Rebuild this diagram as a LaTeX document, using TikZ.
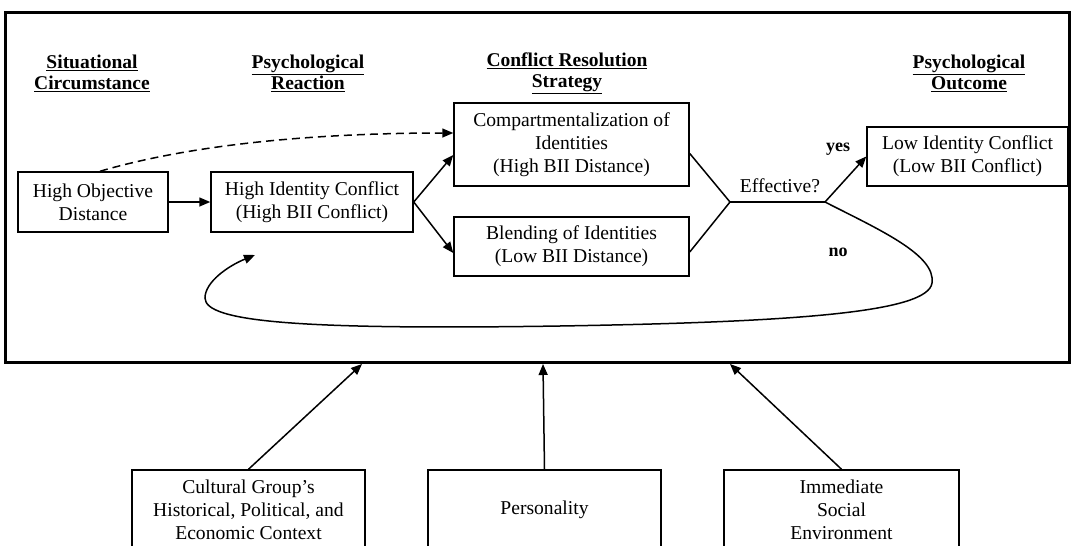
\documentclass[tikz,border=0pt]{standalone}
\usepackage{fontspec}
\setmainfont{Liberation Serif}
\usetikzlibrary{arrows.meta}
\tikzset{
  box/.style={draw, line width=1.5pt, rectangle, inner sep=0pt, align=center, font=\fontsize{19.6}{23}\selectfont},
  hdr/.style={align=center, inner sep=0pt, font=\fontsize{19.5}{21}\selectfont\bfseries},
  lbl/.style={inner sep=0pt, font=\fontsize{19.6}{23}\selectfont},
  blbl/.style={inner sep=0pt, font=\fontsize{18}{23}\selectfont\bfseries},
  conn/.style={line width=1.5pt},
  arr/.style={line width=1.5pt, -{Triangle[length=11pt,width=9pt]}},
  dasharr/.style={line width=1.5pt, dash pattern=on 8pt off 5pt, -{Triangle[length=11pt,width=9pt]}}
}
\begin{document}
\begin{tikzpicture}[x=1pt,y=-1pt]
\useasboundingbox (0,0) rectangle (1071,546);
\clip (0,0) rectangle (1071,546);
\fill[white] (0,0) rectangle (1071,546);
% outer frame
\node[draw, line width=3pt, rectangle, inner sep=0pt, minimum width=1064pt, minimum height=350pt] (frame) at (537,187) {};
% headers
\node[hdr] (h1) at (92,73) {\underline{Situational}\\\underline{Circumstance}};
\node[hdr] (h2) at (308,73) {\underline{Psychological}\\\underline{Reaction}};
\node[hdr] (h3) at (567,73) {\underline{Conflict Resolution}\\\underline{Strategy}};
\node[hdr] (h4) at (969,73) {\underline{Psychological}\\\underline{Outcome}};
% boxes
\node[box, minimum width=150pt, minimum height=60pt] (HOD) at (93,202) {High Objective\\Distance};
\node[box, minimum width=202pt, minimum height=60pt] (HIC) at (312,202) {High Identity Conflict\\(High BII Conflict)};
\node[box, minimum width=235pt, minimum height=83pt] (Comp) at (571.5,144.5) {Compartmentalization of\\Identities\\(High BII Distance)};
\node[box, minimum width=235pt, minimum height=59pt] (Blend) at (571.5,246.5) {Blending of Identities\\(Low BII Distance)};
\node[box, minimum width=201pt, minimum height=59pt] (Low) at (967.5,156.5) {Low Identity Conflict\\(Low BII Conflict)};
% bottom boxes
\node[box, minimum width=233pt, minimum height=80pt] (Cult) at (248.5,510) {Cultural Group's\\Historical, Political, and\\Economic Context};
\node[box, minimum width=233pt, minimum height=80pt] (Pers) at (544.5,510) {Personality};
\node[box, minimum width=235pt, minimum height=80pt] (Imm) at (841.5,510) {Immediate\\Social\\Environment};
% labels
\node[lbl] (eff) at (780,186) {Effective?};
\node[blbl] (yes) at (838,149) {yes};
\node[blbl] (no) at (838,252) {no};
% coordinates
\coordinate (J1) at (730,202);
\coordinate (J2) at (825,202);
\coordinate (loopend) at (255,255);
\coordinate (t1) at (362,364);
\coordinate (t2) at (543,364);
\coordinate (t3) at (730,364);
% connectors
\draw[arr] (HOD.east) -- (HIC.west);
\draw[dasharr] ([xshift=7pt]HOD.north) .. controls (200,142) and (330,133) .. ([yshift=11.5pt]Comp.west);
\draw[arr] (HIC.east) -- ([yshift=-10.5pt]Comp.west);
\draw[arr] (HIC.east) -- ([yshift=-6.5pt]Blend.west);
\draw[conn] ([yshift=-9pt]Comp.east) -- (J1);
\draw[conn] ([yshift=-5.5pt]Blend.east) -- (J1);
\draw[conn] (J1) -- (J2);
\draw[arr] (J2) -- (Low.west);
\draw[arr] (J2) .. controls (880,230) and (936,255) .. (932,283)
  .. controls (928,312) and (800,322) .. (560,326)
  .. controls (300,330) and (205,322) .. (205,298)
  .. controls (205,282) and (228,266) .. (loopend);
\draw[arr] (Cult.north) -- (t1);
\draw[arr] (Pers.north) -- (t2);
\draw[arr] (Imm.north) -- (t3);
\end{tikzpicture}
\end{document}
